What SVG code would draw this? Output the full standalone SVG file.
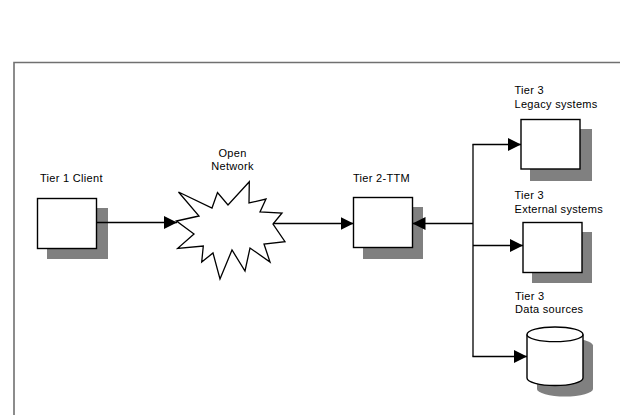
<svg xmlns="http://www.w3.org/2000/svg" width="620" height="415" viewBox="0 0 620 415">
<style>
text{font-family:"Liberation Sans",Arial,sans-serif;font-size:11px;fill:#000;letter-spacing:0.3px}
.box{fill:#fff;stroke:#000;stroke-width:1.4}
.sh{fill:#808080;stroke:none}
.ln{fill:none;stroke:#000;stroke-width:1.3}
</style>
<defs>
<marker id="ah" markerUnits="userSpaceOnUse" markerWidth="13" markerHeight="13" refX="13" refY="6.5" orient="auto">
<path d="M0,0 L13,6.5 L0,13 Z" fill="#000"/>
</marker>
</defs>
<rect width="620" height="415" fill="#fff"/>
<path d="M14,415 L14,62.5 L620,62.5" fill="none" stroke="#707070" stroke-width="1.6"/>
<g id="tier1">
<rect class="sh" x="47" y="208" width="61" height="51"/>
<rect class="box" x="37.5" y="198.5" width="59" height="50"/>
<text x="40" y="181.5">Tier 1 Client</text>
</g>
<g id="network">
<polygon points="176.5,221 199,216 178.5,192 212,208 217.5,192.5 228,205 249.3,181.7 249,203 266,199 260,212 282,213 273,224 285,241.7 264,244 270,262 250,248 245,271 232,250 220,279 213,253 201.7,262 203.3,246 177.7,248.3 194,234" fill="#fff" stroke="#000" stroke-width="1.3" stroke-linejoin="miter"/>
<text x="232.5" y="157.3" text-anchor="middle">Open</text>
<text x="232.5" y="170" text-anchor="middle">Network</text>
</g>
<g id="tier2">
<rect class="sh" x="363" y="207" width="60" height="52"/>
<rect class="box" x="353.5" y="197.5" width="59" height="50"/>
<text x="353" y="182">Tier 2-TTM</text>
</g>
<g id="legacy">
<rect class="sh" x="530" y="129" width="62" height="52"/>
<rect class="box" x="521" y="119.5" width="59" height="49.5"/>
<text x="514.5" y="93.5">Tier 3</text>
<text x="514.5" y="107.5">Legacy systems</text>
</g>
<g id="external">
<rect class="sh" x="532" y="232" width="60" height="51"/>
<rect class="box" x="523" y="222.5" width="59" height="50"/>
<text x="514.5" y="199.3">Tier 3</text>
<text x="514.5" y="213.3">External systems</text>
</g>
<g id="datasources">
<path class="sh" d="M537,345.5 L537,389 A28,7.5 0 0 0 593,389 L593,345.5 A28,7.5 0 0 0 537,345.5 Z"/>
<path class="box" d="M527,334.5 L527,378 A28,7.5 0 0 0 583,378 L583,334.5 A28,7.5 0 0 0 527,334.5 Z"/>
<path class="ln" d="M527,334.5 A28,7.2 0 0 0 583,334.5" stroke-width="1.4"/>
<text x="515" y="300">Tier 3</text>
<text x="515" y="313.3">Data sources</text>
</g>
<g id="connectors">
<line class="ln" x1="96.5" y1="222.5" x2="177" y2="222.5" marker-end="url(#ah)"/>
<line class="ln" x1="273" y1="223.5" x2="353.5" y2="223.5" marker-end="url(#ah)"/>
<line class="ln" x1="473" y1="223.5" x2="412.5" y2="223.5" marker-end="url(#ah)"/>
<line class="ln" x1="473" y1="144.5" x2="473" y2="356.5"/>
<line class="ln" x1="472.4" y1="144.5" x2="521" y2="144.5" marker-end="url(#ah)"/>
<line class="ln" x1="473" y1="245.5" x2="523" y2="245.5" marker-end="url(#ah)"/>
<line class="ln" x1="472.4" y1="356.5" x2="527" y2="356.5" marker-end="url(#ah)"/>
</g>
</svg>
